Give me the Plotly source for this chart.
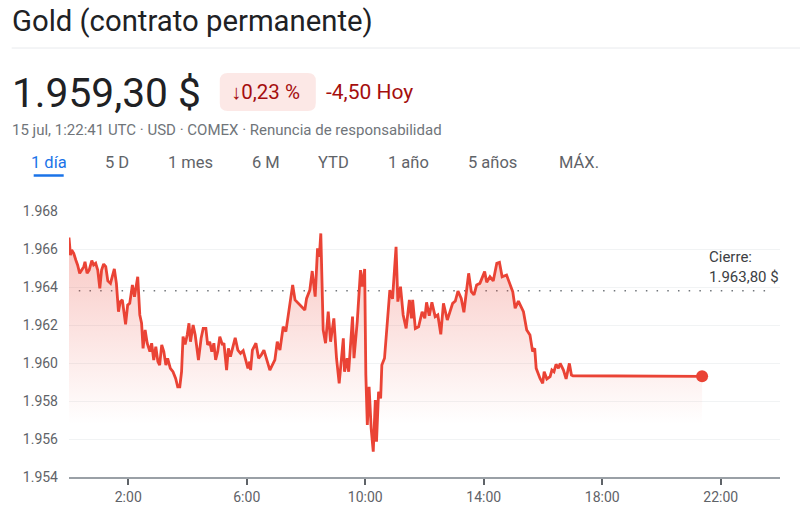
import plotly.graph_objects as go

# chart values
hours = [0.00, 0.05, 0.09, 0.16, 0.23, 0.29, 0.36, 0.43, 0.50, 0.54, 0.61, 0.68, 0.77, 0.83, 0.90, 0.97,
         1.04, 1.10, 1.17, 1.24, 1.31, 1.40, 1.49, 1.53, 1.60, 1.67, 1.73, 1.80, 1.91, 1.98, 2.05, 2.14,
         2.21, 2.32, 2.39, 2.45, 2.50, 2.57, 2.64, 2.73, 2.79, 2.86, 2.93, 3.00, 3.06, 3.13, 3.20, 3.27,
         3.33, 3.42, 3.51, 3.60, 3.67, 3.74, 3.80, 3.85, 3.92, 3.99, 4.05, 4.10, 4.19, 4.26, 4.37, 4.46,
         4.53, 4.62, 4.68, 4.75, 4.82, 4.89, 4.95, 5.02, 5.09, 5.18, 5.23, 5.32, 5.38, 5.45, 5.52, 5.61,
         5.70, 5.79, 5.88, 5.95, 6.04, 6.10, 6.13, 6.19, 6.31, 6.40, 6.49, 6.58, 6.67, 6.78, 6.95, 7.03,
         7.12, 7.23, 7.32, 7.43, 7.55, 7.63, 7.80, 7.96, 8.02, 8.13, 8.21, 8.31, 8.39, 8.45, 8.50, 8.58,
         8.66, 8.75, 8.83, 8.94, 9.03, 9.12, 9.26, 9.30, 9.39, 9.44, 9.57, 9.62, 9.73, 9.84, 9.90, 9.98,
         10.02, 10.07, 10.13, 10.20, 10.27, 10.34, 10.38, 10.45, 10.52, 10.56, 10.65, 10.74, 10.83, 10.92,
         11.04, 11.10, 11.19, 11.28, 11.38, 11.49, 11.56, 11.60, 11.69, 11.80, 11.92, 12.01, 12.07, 12.16,
         12.25, 12.36, 12.45, 12.55, 12.64, 12.77, 12.95, 13.04, 13.13, 13.24, 13.33, 13.49, 13.58, 13.67,
         13.76, 13.87, 14.03, 14.10, 14.21, 14.32, 14.44, 14.53, 14.62, 14.77, 14.86, 14.98, 15.06, 15.17,
         15.34, 15.45, 15.56, 15.65, 15.72, 15.77, 15.90, 15.99, 16.04, 16.13, 16.24, 16.30, 16.37, 16.44,
         16.52, 16.58, 16.69, 16.78, 16.89, 16.96, 17.01, 21.37]
prices = [1966.60, 1965.68, 1965.95, 1965.77, 1965.42, 1965.16, 1964.72, 1964.89, 1965.07, 1965.33, 1964.72,
          1964.89, 1965.39, 1965.16, 1965.25, 1964.89, 1963.93, 1964.89, 1965.21, 1965.07, 1964.32, 1964.19,
          1964.63, 1964.95, 1964.19, 1962.70, 1963.23, 1963.32, 1962.04, 1963.05, 1963.14, 1964.11, 1963.49,
          1964.54, 1962.53, 1962.09, 1960.77, 1961.74, 1961.04, 1960.60, 1961.04, 1960.16, 1960.86, 1960.07,
          1959.89, 1960.95, 1960.60, 1959.89, 1960.25, 1959.72, 1959.54, 1959.19, 1958.75, 1958.75, 1959.54,
          1961.39, 1960.98, 1961.47, 1962.09, 1961.12, 1962.00, 1961.47, 1960.16, 1961.30, 1961.82, 1961.82,
          1960.95, 1961.12, 1960.60, 1961.04, 1960.16, 1960.60, 1961.39, 1960.95, 1961.04, 1959.63, 1960.77,
          1960.33, 1960.77, 1961.33, 1960.68, 1960.51, 1960.65, 1960.25, 1959.72, 1960.07, 1959.63, 1960.68,
          1961.04, 1960.25, 1960.42, 1960.68, 1960.25, 1959.63, 1960.16, 1961.12, 1960.68, 1961.91, 1961.65,
          1962.79, 1964.11, 1963.32, 1963.05, 1962.79, 1963.40, 1963.84, 1964.84, 1963.49, 1966.04, 1965.60,
          1966.82, 1961.74, 1961.04, 1962.70, 1961.12, 1962.35, 1960.25, 1958.93, 1961.30, 1959.54, 1960.25,
          1959.54, 1962.44, 1960.25, 1962.18, 1964.89, 1964.02, 1964.95, 1959.37, 1956.74, 1958.75, 1956.56,
          1955.33, 1958.05, 1955.86, 1958.49, 1958.14, 1959.89, 1960.25, 1962.26, 1963.84, 1963.37, 1966.12,
          1963.23, 1964.02, 1962.53, 1961.82, 1963.32, 1962.35, 1963.32, 1961.82, 1961.91, 1962.70, 1962.35,
          1963.19, 1962.49, 1963.19, 1962.44, 1962.53, 1961.51, 1963.14, 1962.26, 1963.14, 1963.26, 1963.79,
          1963.40, 1962.67, 1964.72, 1963.75, 1963.58, 1964.11, 1964.19, 1964.81, 1964.25, 1964.54, 1964.32,
          1965.25, 1965.30, 1964.54, 1964.63, 1964.28, 1963.75, 1962.88, 1963.26, 1962.70, 1961.74, 1961.47,
          1960.60, 1960.77, 1959.72, 1959.19, 1958.93, 1959.54, 1959.16, 1959.28, 1959.63, 1959.54, 1959.93,
          1959.72, 1959.98, 1959.63, 1959.16, 1959.98, 1959.37, 1959.33, 1959.30]

prev_close = 1963.80
close_span = [0.33, 23.8]

x_ticks = [2, 6, 10, 14, 18, 22]
x_labels = ["2:00", "6:00", "10:00", "14:00", "18:00", "22:00"]
y_ticks = [1954, 1956, 1958, 1960, 1962, 1964, 1966, 1968]
y_labels = ["1.954", "1.956", "1.958", "1.960", "1.962", "1.964", "1.966", "1.968"]

tabs = ["1 día", "5 D", "1 mes", "6 M", "YTD", "1 año", "5 años", "MÁX."]
tab_centers = [49, 117, 191, 266, 334, 409, 493, 579]

WIDTH, HEIGHT = 800, 517
LEFT, RIGHT, TOP, BOTTOM = 69.3, 780, 211, 477
RED = "#ea4335"
FONT = "Roboto"


def px_x(px):
    return (px - LEFT) / (RIGHT - LEFT)


def px_y(py):
    return (BOTTOM - py) / (BOTTOM - TOP)


def label(text, x, y, size, color, anchor="left"):
    return dict(text=text, x=px_x(x), y=px_y(y), xref="paper", yref="paper",
                xanchor=anchor, yanchor="middle", showarrow=False, align="left",
                font=dict(family=FONT, size=size, color=color))


fig = go.Figure()

# previous close dotted line
fig.add_trace(go.Scatter(x=close_span, y=[prev_close, prev_close], mode="lines",
                         line=dict(color="#70757a", width=1.5, dash="1.5px,9.2px"),
                         hoverinfo="skip"))

# price line with fading fill
fig.add_trace(go.Scatter(x=hours, y=prices, mode="lines", fill="tozeroy",
                         line=dict(color=RED, width=2.8),
                         fillgradient=dict(type="vertical", start=1956.8, stop=1966.6,
                                           colorscale=[[0, "rgba(234,67,53,0)"],
                                                       [1, "rgba(234,67,53,0.3)"]])))

# current price dot
fig.add_trace(go.Scatter(x=hours[-1:], y=prices[-1:], mode="markers",
                         marker=dict(color=RED, size=12)))

annotations = [
    label("Gold (contrato permanente)", 10, 21, 29.3, "#202124"),
    label("1.959,30 $", 10, 93, 40.7, "#202124"),
    label("↓0,23 %", 229, 92, 20.5, "#a50e0e"),
    label("-4,50 Hoy", 324, 92, 21, "#a50e0e"),
    label("15 jul, 1:22:41 UTC · USD · COMEX · Renuncia de responsabilidad", 10, 130, 15, "#70757a"),
    label("Cierre:<br>1.963,80 $", 707, 267, 15, "#3c4043"),
]
for name, center in zip(tabs, tab_centers):
    color = "#1a73e8" if name == "1 día" else "#5f6368"
    annotations.append(label(name, center, 162, 16.5, color, anchor="center"))

# rounded badge behind the percent change
bx0, bx1, by0, by1, r = 220, 316, 73, 111, 8
bx = [px_x(v) for v in (bx0, bx0 + r, bx1 - r, bx1)]
by = [px_y(v) for v in (by0, by0 + r, by1 - r, by1)]
badge = (f"M {bx[1]} {by[0]} L {bx[2]} {by[0]} Q {bx[3]} {by[0]} {bx[3]} {by[1]} "
         f"L {bx[3]} {by[2]} Q {bx[3]} {by[3]} {bx[2]} {by[3]} L {bx[1]} {by[3]} "
         f"Q {bx[0]} {by[3]} {bx[0]} {by[2]} L {bx[0]} {by[1]} Q {bx[0]} {by[0]} {bx[1]} {by[0]} Z")

shapes = [
    dict(type="path", path=badge, xref="paper", yref="paper", fillcolor="#fce8e6", line_width=0),
    dict(type="line", xref="paper", yref="paper", x0=px_x(12), x1=px_x(800), y0=px_y(48), y1=px_y(48),
         line=dict(color="#e8eaed", width=1)),
    dict(type="line", xref="paper", yref="paper", x0=px_x(34), x1=px_x(64), y0=px_y(175.5), y1=px_y(175.5),
         line=dict(color="#1a73e8", width=2.5)),
]

fig.update_layout(width=WIDTH, height=HEIGHT, showlegend=False,
                  paper_bgcolor="white", plot_bgcolor="white",
                  margin=dict(l=LEFT, r=WIDTH - RIGHT, t=TOP, b=HEIGHT - BOTTOM, pad=0),
                  font=dict(family=FONT),
                  annotations=annotations, shapes=shapes)
fig.update_xaxes(range=[0, 24], tickvals=x_ticks, ticktext=x_labels, showgrid=False, zeroline=False,
                 showline=True, linecolor="#9aa0a6", linewidth=1.5,
                 ticks="outside", ticklen=6, tickwidth=2, tickcolor="#5f6368",
                 tickfont=dict(family=FONT, size=14, color="#5f6368"))
fig.update_yaxes(range=[1954, 1968], tickvals=y_ticks, ticktext=y_labels, gridcolor="#f1f3f4", gridwidth=1,
                 zeroline=False, showline=False, ticks="", ticklabelstandoff=10,
                 tickfont=dict(family=FONT, size=14, color="#5f6368"))

fig.write_html("out.html", config=dict(displayModeBar=False),
               post_script="document.body.style.margin = '0';")
